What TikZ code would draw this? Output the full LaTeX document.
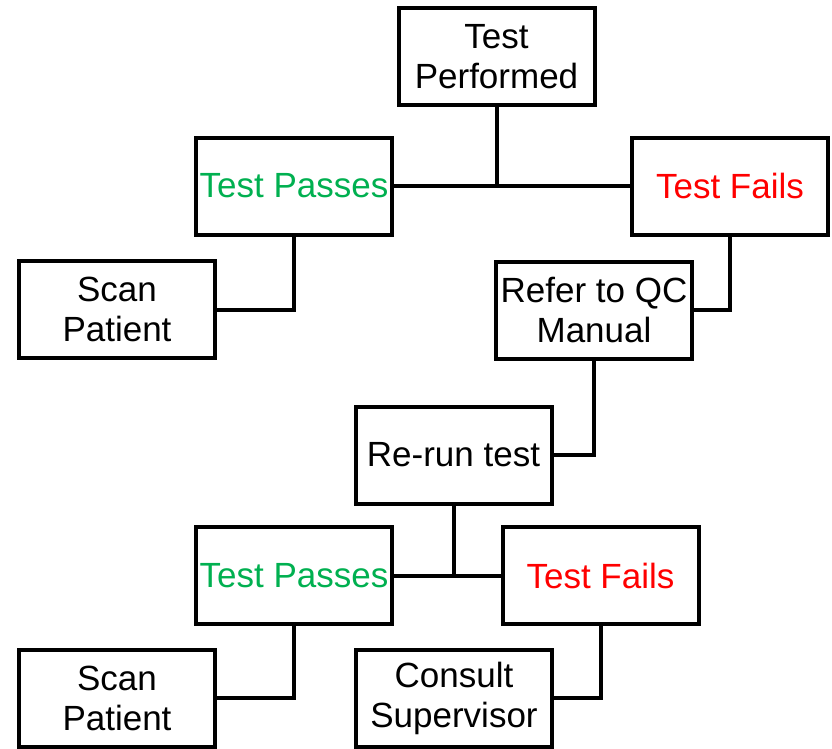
\documentclass[tikz,border=0pt]{standalone}
\usepackage{fontspec}
\setmainfont{Liberation Sans}
\definecolor{passgreen}{HTML}{00B050}
\definecolor{failred}{HTML}{FF0000}
\tikzset{
  box/.style={draw=black, line width=4pt, fill=white, minimum width=196pt, minimum height=97pt,
    inner sep=0pt, align=center, font=\fontsize{35}{40}\selectfont},
  conn/.style={draw=black, line width=4pt}
}
\begin{document}
\begin{tikzpicture}[x=1pt,y=-1pt]
\useasboundingbox (0,0) rectangle (832,748);
\node[box] (tp) at (496.5,56.5) {Test\\Performed};
\node[box, text=passgreen] (pass1) at (294,186) {Test Passes};
\node[box, text=failred] (fail1) at (730,186) {Test Fails};
\node[box] (scan1) at (117,309.5) {Scan\\Patient};
\node[box] (refer) at (594,310) {Refer to QC\\Manual};
\node[box] (rerun) at (453.5,455) {Re-run test};
\node[box, text=passgreen] (pass2) at (294,575.5) {Test Passes};
\node[box, text=failred] (fail2) at (600.5,575.5) {Test Fails};
\node[box] (scan2) at (117,698) {Scan\\Patient};
\node[box] (consult) at (454,698) {Consult\\Supervisor};
\draw[conn] (pass1.east) -- (fail1.west);
\draw[conn] (tp.south) -- (tp.south |- pass1.east);
\draw[conn] (pass1.south) |- (scan1.east);
\draw[conn] (fail1.south) |- (refer.east);
\draw[conn] (refer.south) |- (rerun.east);
\draw[conn] (pass2.east) -- (fail2.west);
\draw[conn] (rerun.south) -- (rerun.south |- pass2.east);
\draw[conn] (pass2.south) |- (scan2.east);
\draw[conn] (fail2.south) |- (consult.east);
\end{tikzpicture}
\end{document}
